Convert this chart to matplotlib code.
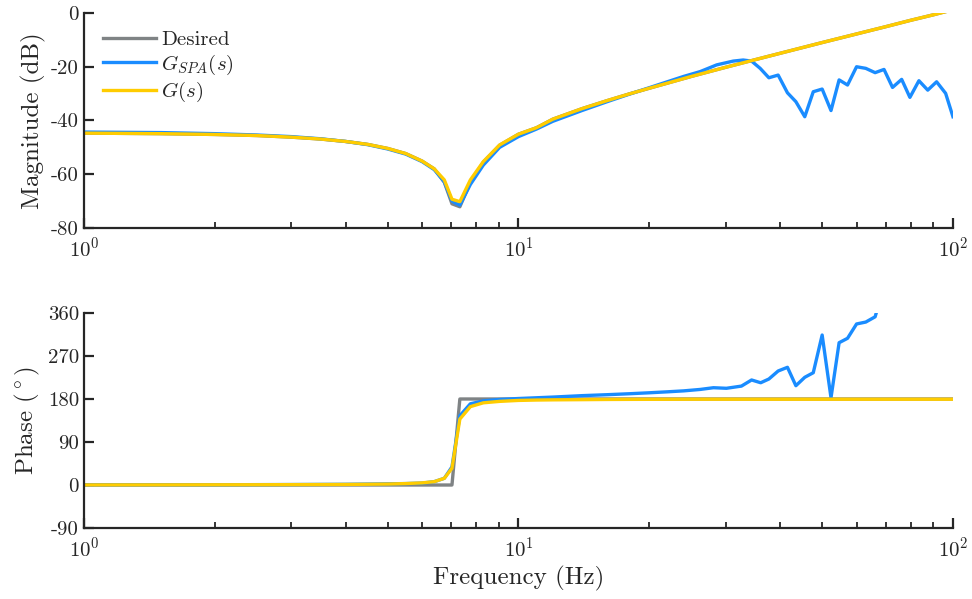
import numpy as np
import matplotlib.pyplot as plt

plt.rcParams['font.family'] = 'serif'
plt.rcParams['font.serif'] = ['cmr10']
plt.rcParams['mathtext.fontset'] = 'cm'
plt.rcParams['axes.unicode_minus'] = False
plt.rcParams['axes.formatter.use_mathtext'] = False

# frequency grid of the model / desired response (Hz)
f_model = [1, 1.5, 2, 2.5, 3, 3.5, 4, 4.5, 5, 5.5, 6, 6.4, 6.75, 7.03, 7.33, 7.75,
           8.3, 9.05, 10, 11, 12, 14, 16, 18, 20, 25, 30, 35, 40, 50, 60, 70, 80,
           90, 100]

mag_desired = [-44.7, -44.9, -45.2, -45.6, -46.2, -46.9, -47.8, -48.9, -50.4, -52.3,
               -55.1, -58.0, -63.0, -71.0, -72.1, -63.0, -55.5, -49.2, -45.1, -42.7,
               -39.5, -35.6, -32.6, -30.1, -28.0, -23.6, -20.2, -17.4, -15.0, -11.0,
               -7.8, -5.1, -2.7, -0.7, 1.2]
mag_model = [-44.7, -44.9, -45.2, -45.6, -46.2, -46.9, -47.8, -48.9, -50.4, -52.3,
             -55.1, -58.0, -62.1, -69.3, -70.2, -62.1, -55.3, -49.1, -45.1, -42.7,
             -39.5, -35.6, -32.6, -30.1, -28.0, -23.6, -20.2, -17.4, -15.0, -11.0,
             -7.8, -5.1, -2.7, -0.7, 1.2]

ph_desired = [0, 0, 0, 0, 0, 0, 0, 0, 0, 0, 0, 0, 0, 0, 180, 180, 180, 180, 180, 180,
              180, 180, 180, 180, 180, 180, 180, 180, 180, 180, 180, 180, 180, 180, 180]
ph_model = [0.2, 0.3, 0.5, 0.6, 0.8, 1.0, 1.2, 1.6, 2.0, 3.0, 4.5, 7.0, 14, 35, 138,
            164, 172, 175, 177, 177.8, 178.2, 178.6, 179, 179.2, 179.3, 179.5, 179.5,
            179.5, 179.5, 179.5, 179.5, 179.5, 179.5, 179.5, 179.5]

# SPA estimate
f_spa_mag = [1, 1.5, 2, 2.5, 3, 3.5, 4, 4.5, 5, 5.5, 6, 6.4, 6.75, 7.03, 7.33, 7.75,
             8.3, 9.05, 10, 11, 12, 14, 16, 18, 20, 22, 24, 26.2, 28.6, 31.2, 32.9,
             34.4, 36.0, 37.7, 39.6, 41.6, 43.5, 45.6, 47.7, 50.0, 52.4, 54.7, 57.2,
             60.0, 63.0, 66.2, 69.4, 72.6, 76.2, 79.6, 83.5, 87.5, 91.7, 96.2, 100]
mag_spa = [-44.3, -44.5, -44.9, -45.4, -46.0, -46.8, -47.8, -49.0, -50.6, -52.5,
           -55.3, -58.3, -62.8, -70.0, -71.5, -63.8, -56.6, -50.0, -46.0, -43.2,
           -40.3, -36.3, -33.0, -30.2, -27.8, -25.6, -23.6, -21.8, -19.3, -17.9,
           -17.5, -17.9, -20.6, -24.1, -23.1, -29.7, -33.0, -38.6, -29.3, -28.3,
           -36.3, -24.9, -26.8, -20.0, -20.6, -22.2, -21.0, -27.7, -24.7, -31.4,
           -25.2, -28.7, -25.6, -29.9, -38.6]

f_spa_ph = [1, 2, 3, 4, 5, 5.5, 6, 6.4, 6.75, 7.03, 7.33, 7.75, 8.3, 9.05, 10, 12,
            14, 16, 18, 20, 22, 24, 26.2, 28.1, 30.1, 32.6, 34.4, 36.1, 37.7, 39.6,
            41.6, 43.5, 45.6, 47.7, 50.0, 52.4, 54.7, 57.2, 60.0, 63.0, 66.2, 66.5]
ph_spa = [0.5, 0.5, 1.0, 1.5, 2.5, 3.0, 4.0, 7.0, 14, 38, 145, 170, 176, 179, 181,
          184, 187, 189, 191, 193, 195, 197, 200, 203.6, 202.4, 207, 219.8, 214,
          221.8, 238.6, 246.3, 207.8, 225.4, 235, 313.9, 182.7, 297.8, 307, 337,
          341, 352, 358]

c_des = '#7f8385'
c_spa = '#1a8cff'
c_mod = '#ffcc00'
c_txt = '#262626'
lw = 2.4

fig = plt.figure(figsize=(9.72, 5.99), dpi=100)
ax1 = fig.add_axes([0.0864, 0.6194, 0.894, 0.3589])
ax2 = fig.add_axes([0.0864, 0.1185, 0.894, 0.3590])

ax1.semilogx(f_model, mag_desired, color=c_des, lw=lw, label='Desired')
ax1.semilogx(f_spa_mag, mag_spa, color=c_spa, lw=lw, label='$G_{SPA}(s)$')
ax1.semilogx(f_model, mag_model, color=c_mod, lw=lw, label='$G(s)$')
ax1.set_ylim(-80, 0)
ax1.set_yticks([-80, -60, -40, -20, 0])
ax1.set_ylabel('Magnitude (dB)')
ax1.legend(loc='upper left', bbox_to_anchor=(0.0, 1.005), frameon=False,
           handlelength=2.55, handletextpad=0.25, labelspacing=0.16, borderaxespad=0.5,
           prop={'size': 15})

ax2.semilogx(f_model, ph_desired, color=c_des, lw=lw)
ax2.semilogx(f_spa_ph, ph_spa, color=c_spa, lw=lw)
ax2.semilogx(f_model, ph_model, color=c_mod, lw=lw)
ax2.set_ylim(-90, 360)
ax2.set_yticks([-90, 0, 90, 180, 270, 360])
ax2.set_ylabel(r'Phase $(^\circ)$')
ax2.set_xlabel('Frequency (Hz)')

for ax in (ax1, ax2):
    ax.set_xlim(1, 100)
    for side in ('top', 'right'):
        ax.spines[side].set_visible(False)
    for side in ('left', 'bottom'):
        ax.spines[side].set_linewidth(1.6)
        ax.spines[side].set_color(c_txt)
    ax.tick_params(which='both', direction='in', colors=c_txt, labelsize=15,
                   labelcolor=c_txt)
    ax.tick_params(which='major', length=7, width=1.6)
    ax.tick_params(which='minor', length=4, width=1.3)
    ax.tick_params(axis='x', which='both', pad=6)
    ax.yaxis.label.set_size(18)
    ax.xaxis.label.set_size(18)
    ax.yaxis.label.set_color(c_txt)
    ax.xaxis.label.set_color(c_txt)

for t in ax1.get_legend().get_texts():
    t.set_color(c_txt)
fig.savefig('out.png', dpi=100)
